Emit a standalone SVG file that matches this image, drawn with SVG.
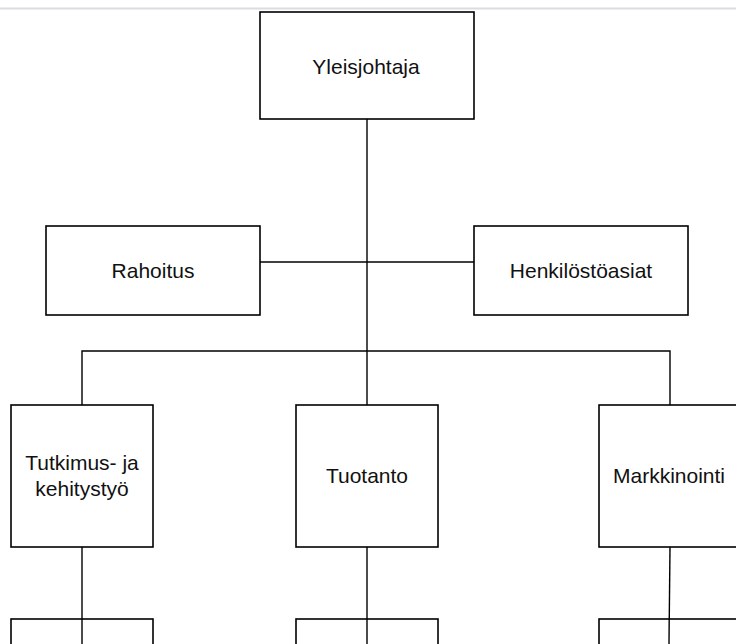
<svg xmlns="http://www.w3.org/2000/svg" width="736" height="644" viewBox="0 0 736 644">
  <style>
    .box { fill: #ffffff; stroke: #000000; stroke-width: 1.6; }
    .link { fill: none; stroke: #000000; stroke-width: 1.4; }
    .label { font-family: "Liberation Sans", Arial, sans-serif; font-size: 21px; fill: #111111; text-anchor: middle; }
  </style>
  <rect width="736" height="644" fill="#ffffff"/>
  <line x1="0" y1="8.5" x2="736" y2="8.5" stroke="#dcdce0" stroke-width="2"/>

  <!-- org chart connectors -->
  <g id="connectors">
    <path class="link" d="M367 119 V405"/>
    <path class="link" d="M260 262 H474"/>
    <path class="link" d="M82 405 V351 H670 V405"/>
    <path class="link" d="M82 547 V644"/>
    <path class="link" d="M367 547 V644"/>
    <path class="link" d="M670 547 L669 644"/>
  </g>

  <g id="yleisjohtaja">
    <rect class="box" x="260" y="12" width="214" height="107"/>
    <text class="label" x="366" y="74">Yleisjohtaja</text>
  </g>
  <g id="rahoitus">
    <rect class="box" x="46" y="226" width="214" height="89"/>
    <text class="label" x="153" y="278">Rahoitus</text>
  </g>
  <g id="henkilostoasiat">
    <rect class="box" x="474" y="226" width="214" height="89"/>
    <text class="label" x="581" y="278">Henkilöstöasiat</text>
  </g>
  <g id="tutkimus">
    <rect class="box" x="11" y="405" width="142" height="142"/>
    <text class="label" x="82" y="470">Tutkimus- ja</text>
    <text class="label" x="82" y="496">kehitystyö</text>
  </g>
  <g id="tuotanto">
    <rect class="box" x="296" y="405" width="142" height="142"/>
    <text class="label" x="367" y="483">Tuotanto</text>
  </g>
  <g id="markkinointi">
    <rect class="box" x="599" y="405" width="142" height="142"/>
    <text class="label" x="669" y="483">Markkinointi</text>
  </g>

  <!-- lower row, partly out of view -->
  <g id="tutkimus-alayksikko">
    <rect class="box" x="11" y="619" width="142" height="40"/>
  </g>
  <g id="tuotanto-alayksikko">
    <rect class="box" x="296" y="619" width="142" height="40"/>
  </g>
  <g id="markkinointi-alayksikko">
    <rect class="box" x="599" y="619" width="142" height="40"/>
  </g>
  <g id="connectors-front">
    <path class="link" d="M82 619 V644 M367 619 V644 M669.2 619 L669 644"/>
  </g>
</svg>
